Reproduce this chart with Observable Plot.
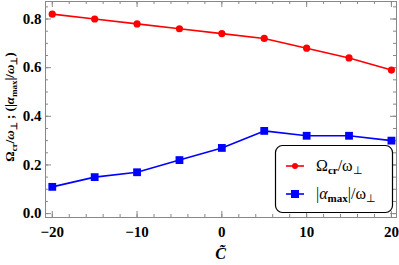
<!DOCTYPE html>
<html>
<head>
<meta charset="utf-8">
<script src="https://cdn.jsdelivr.net/npm/d3@7"></script>
<script src="https://cdn.jsdelivr.net/npm/@observablehq/plot@0.6"></script>
<style>
  body { margin: 0; background: #fff; }
  #chart { position: relative; width: 399px; height: 265px; }
  svg { font-family: "Liberation Serif", "DejaVu Serif", serif; }
</style>
</head>
<body>
<div id="chart"></div>
<script>
const cTilde = [-20, -15, -10, -5, 0, 5, 10, 15, 20];
const omegaCr = [0.82, 0.80, 0.78, 0.76, 0.74, 0.72, 0.68, 0.64, 0.59];
const alphaMax = [0.11, 0.15, 0.17, 0.22, 0.27, 0.34, 0.32, 0.32, 0.30];
const xMajorTicks = [-20, -10, 0, 10, 20];
const xMinorTicks = d3.range(-20, 20.01, 2);
const yMajorTicks = [0.0, 0.2, 0.4, 0.6, 0.8];
const yMinorTicks = d3.range(0, 0.851, 0.05);

const red = cTilde.map((x, i) => ({x, y: omegaCr[i]}));
const blue = cTilde.map((x, i) => ({x, y: alphaMax[i]}));

const W = 399, H = 265, mL = 45, mR = 3, mT = 1, mB = 48;
const pw = W - mL - mR, ph = H - mT - mB;
const gray = "#888";

const plot = Plot.plot({
  width: W, height: H,
  marginLeft: mL, marginRight: mR, marginTop: mT, marginBottom: mB,
  x: {domain: [-20.8, 20.6]},
  y: {domain: [-0.016, 0.872]},
  style: {fontFamily: "Liberation Serif", fontSize: "15px", background: "white"},
  marks: [
    Plot.frame({stroke: gray, strokeWidth: 1}),
    Plot.tickX(xMinorTicks, {x: d => d, insetTop: ph - 3, stroke: gray}),
    Plot.tickX(xMajorTicks, {x: d => d, insetTop: ph - 6, stroke: gray}),
    Plot.tickX(xMinorTicks, {x: d => d, insetBottom: ph - 3, stroke: gray}),
    Plot.tickX(xMajorTicks, {x: d => d, insetBottom: ph - 6, stroke: gray}),
    Plot.tickY(yMinorTicks, {y: d => d, insetRight: pw - 3, stroke: gray}),
    Plot.tickY(yMajorTicks, {y: d => d, insetRight: pw - 6, stroke: gray}),
    Plot.tickY(yMinorTicks, {y: d => d, insetLeft: pw - 3, stroke: gray}),
    Plot.tickY(yMajorTicks, {y: d => d, insetLeft: pw - 6, stroke: gray}),
    Plot.axisX(xMajorTicks, {tickSize: 0, tickPadding: 9, fontSize: 15, fontWeight: "bold",
      tickFormat: d => d < 0 ? "\u2212" + Math.abs(d) : String(d), label: null, fill: "black"}),
    Plot.axisY(yMajorTicks, {tickSize: 0, tickPadding: 4, fontSize: 15, fontWeight: "bold",
      tickFormat: d => d.toFixed(1), label: null, fill: "black"}),
    Plot.line(red, {x: "x", y: "y", stroke: "#ff0000", strokeWidth: 1.6}),
    Plot.dot(red, {x: "x", y: "y", r: 3.6, fill: "#ff0000", symbol: "circle"}),
    Plot.line(blue, {x: "x", y: "y", stroke: "#0000ff", strokeWidth: 1.6}),
    Plot.dot(blue, {x: "x", y: "y", r: 4.4, fill: "#0000ff", symbol: "square"})
  ]
});
document.getElementById("chart").appendChild(plot);

const svg = d3.select(plot);
svg.selectAll('g[aria-label="x-axis tick label"], g[aria-label="y-axis tick label"]')
  .attr("font-size", 15).attr("font-weight", "bold").attr("fill", "black")
  .style("font-size", "15px").style("font-weight", "bold");

svg.append("text")
  .attr("x", mL + pw / 2 + 0).attr("y", 259)
  .attr("text-anchor", "middle")
  .attr("font-size", 16).attr("font-style", "italic").attr("font-weight", "bold")
  .attr("font-family", "Liberation Serif")
  .text("C\u0303");

const yl = svg.append("text")
  .attr("transform", `translate(14, ${mT + ph / 2 - 2}) rotate(-90)`)
  .attr("text-anchor", "middle")
  .attr("font-size", 13).attr("font-weight", "bold")
  .attr("font-family", "Liberation Serif");
function addParts(t, parts, subSize) {
  parts.forEach(p => {
    const ts = t.append("tspan").text(p.t);
    if (p.sub) ts.attr("font-size", subSize).attr("dy", 3);
    if (p.up) ts.attr("dy", -3);
    if (p.it) ts.attr("font-style", "italic");
    if (p.b) ts.attr("font-weight", "bold");
  });
}
addParts(yl, [
  {t: "\u03A9"}, {t: "cr", sub: true}, {t: "/", up: true}, {t: "\u03C9", it: true}, {t: "\u22A5", sub: true},
  {t: " ; (|", up: true}, {t: "\u03B1", it: true}, {t: "max", sub: true}, {t: "|/", up: true},
  {t: "\u03C9", it: true}, {t: "\u22A5", sub: true}, {t: ")", up: true}
], 9);

const lg = svg.append("g");
lg.append("rect").attr("x", 275.5).attr("y", 145.5).attr("width", 117).attr("height", 67)
  .attr("rx", 7).attr("fill", "white").attr("stroke", "black").attr("stroke-width", 1.2);
const items = [
  {color: "#ff0000", sym: "circle", y: 166, parts: [{t: "\u03A9"}, {t: "cr", sub: true, b: true}, {t: "/", up: true}, {t: "\u03C9"}, {t: "\u22A5", sub: true}]},
  {color: "#0000ff", sym: "square", y: 194, parts: [{t: "|"}, {t: "\u03B1", it: true}, {t: "max", sub: true, b: true}, {t: "|/", up: true}, {t: "\u03C9"}, {t: "\u22A5", sub: true}]}
];
items.forEach(it => {
  lg.append("line").attr("x1", 286).attr("x2", 304).attr("y1", it.y).attr("y2", it.y)
    .attr("stroke", it.color).attr("stroke-width", 1.6);
  if (it.sym === "circle") lg.append("circle").attr("cx", 295).attr("cy", it.y).attr("r", 3).attr("fill", it.color);
  else lg.append("rect").attr("x", 291).attr("y", it.y - 4).attr("width", 8).attr("height", 8).attr("fill", it.color);
  const t = lg.append("text").attr("x", 316).attr("y", it.y + 5).attr("text-anchor", "start")
    .attr("font-size", 16).attr("font-family", "Liberation Serif");
  addParts(t, it.parts, 11);
});
</script>
</body>
</html>
